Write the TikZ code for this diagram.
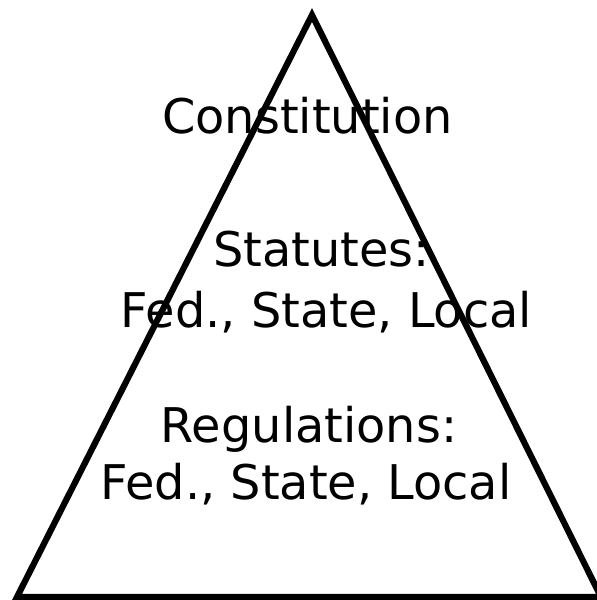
\documentclass[tikz,border=0pt]{standalone}
\usepackage{fontspec}
\setmainfont{DejaVu Sans}
\begin{document}
\begin{tikzpicture}[x=1pt,y=-1pt,
  lbl/.style={anchor=base,inner sep=0pt,font=\fontsize{47.8}{56}\selectfont},
  tri/.style={draw=black,line width=6.2pt,line join=miter}]
\useasboundingbox (0,0) rectangle (597,600);
\coordinate (apex) at (312,15);
\coordinate (bl) at (17,597);
\coordinate (br) at (601,597);
\draw[tri] (apex) -- (bl) -- (br) -- cycle;
\node[lbl] (const) at (307.5,133) {Constitution};
\node[lbl] (stat) at (321.5,266) {Statutes:};
\node[lbl] (statfed) at (326.5,327) {Fed., State, Local};
\node[lbl] (reg) at (309,442) {Regulations:};
\node[lbl] (regfed) at (306,499) {Fed., State, Local};
\end{tikzpicture}
\end{document}
